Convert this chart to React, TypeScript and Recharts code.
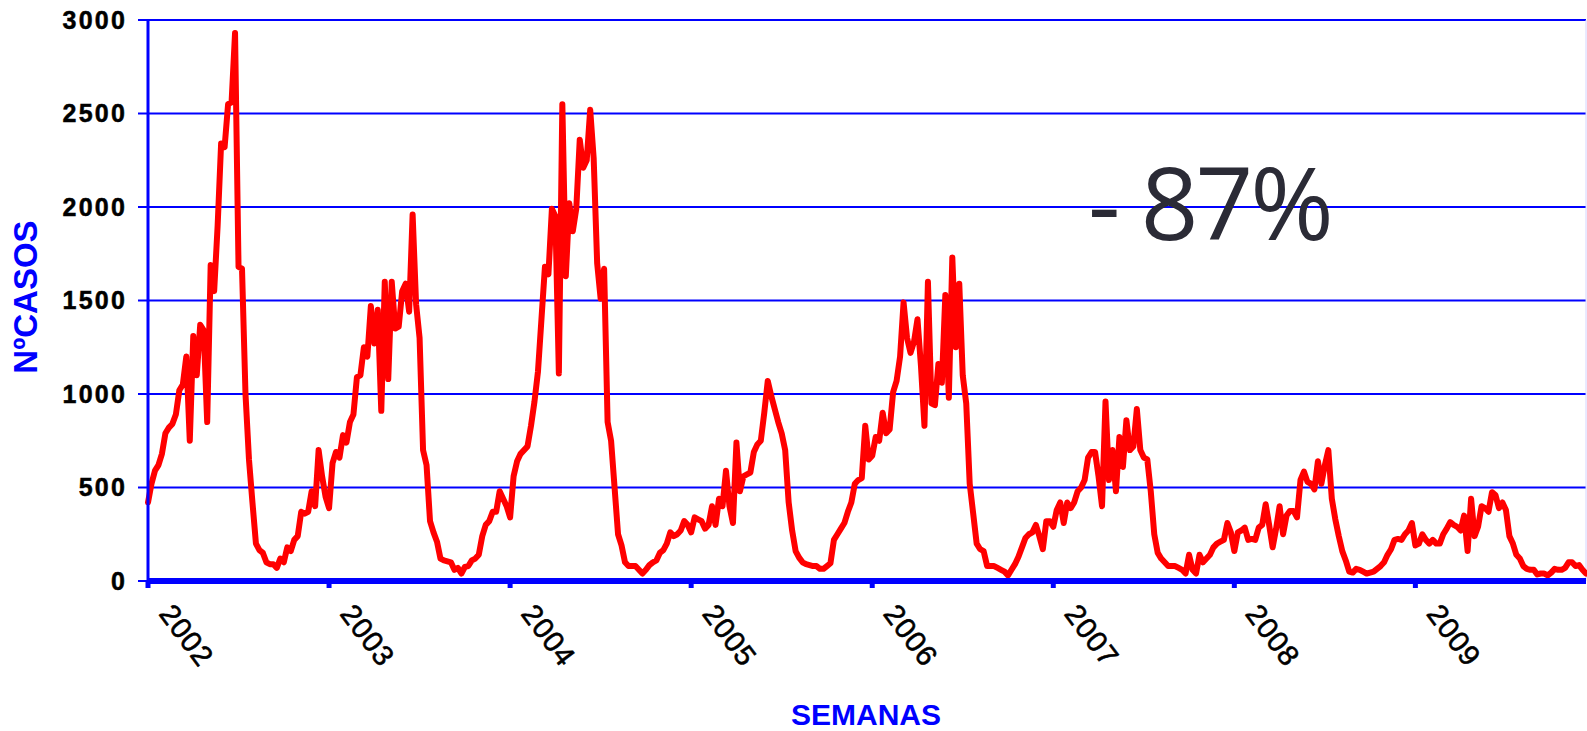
import React from 'react';
import { LineChart, Line, XAxis, YAxis, CartesianGrid, ReferenceLine } from 'recharts';

const years = ['2002', '2003', '2004', '2005', '2006', '2007', '2008', '2009'];

const cases2002 = [420, 520, 590, 620, 680, 790, 820, 840, 890, 1020, 1050, 1200, 750, 1310, 1100, 1370, 1340, 850, 1690, 1550, 1900, 2340, 2320, 2550, 2560, 2930, 1680, 1670, 1000, 650, 420, 200, 165, 150, 100, 90, 90, 70, 120, 100, 180, 160, 220, 240, 370, 360, 370, 480, 400, 700, 560, 450];
const cases2003 = [390, 630, 690, 660, 780, 740, 850, 890, 1090, 1100, 1250, 1200, 1470, 1270, 1450, 910, 1600, 1080, 1600, 1350, 1360, 1550, 1590, 1440, 1960, 1480, 1300, 700, 620, 320, 260, 210, 120, 110, 105, 100, 60, 70, 40, 75, 80, 110, 120, 140, 240, 300, 320, 370, 370, 480, 440, 400];
const cases2004 = [340, 560, 640, 680, 700, 720, 830, 960, 1120, 1400, 1680, 1640, 1990, 1950, 1110, 2550, 1630, 2020, 1870, 1990, 2360, 2210, 2250, 2520, 2260, 1700, 1510, 1670, 850, 750, 500, 250, 190, 100, 80, 80, 80, 60, 40, 60, 85, 100, 110, 150, 165, 200, 260, 240, 250, 270, 320, 300];
const cases2005 = [260, 340, 330, 320, 280, 300, 400, 300, 440, 400, 590, 400, 310, 740, 480, 560, 570, 580, 690, 730, 750, 900, 1070, 990, 920, 850, 790, 700, 420, 270, 160, 125, 100, 90, 85, 80, 80, 65, 65, 80, 95, 220, 250, 280, 310, 370, 420, 520, 540, 550, 830, 650];
const cases2006 = [670, 770, 750, 900, 790, 810, 1010, 1070, 1200, 1490, 1300, 1220, 1280, 1400, 1150, 830, 1600, 950, 940, 1160, 1060, 1530, 980, 1730, 1250, 1590, 1100, 950, 520, 360, 200, 170, 160, 80, 80, 80, 70, 60, 50, 30, 60, 90, 130, 180, 230, 250, 260, 300, 240, 170, 320, 320];
const cases2007 = [290, 380, 420, 310, 420, 390, 420, 480, 500, 540, 660, 690, 690, 560, 400, 960, 540, 700, 480, 770, 610, 860, 700, 720, 920, 700, 660, 650, 480, 250, 150, 120, 100, 80, 80, 80, 70, 60, 40, 140, 60, 40, 140, 100, 120, 140, 180, 200, 210, 220, 310, 260];
const cases2008 = [160, 260, 270, 285, 220, 225, 220, 285, 300, 410, 300, 180, 280, 400, 250, 350, 375, 375, 340, 540, 585, 530, 520, 490, 640, 520, 620, 700, 440, 330, 240, 160, 110, 50, 45, 65, 60, 50, 40, 45, 50, 65, 80, 100, 140, 170, 220, 225, 220, 250, 270, 310];
const cases2009 = [190, 200, 250, 220, 200, 220, 200, 200, 250, 280, 315, 300, 290, 270, 350, 160, 440, 240, 290, 400, 390, 370, 475, 460, 390, 420, 380, 240, 200, 140, 120, 80, 65, 60, 60, 35, 40, 40, 30, 45, 65, 60, 60, 70, 100, 100, 80, 85, 60, 40];

const yTicks = [0, 500, 1000, 1500, 2000, 2500, 3000];
const weeksPerYear = 52;

const weeklyCases = [
  ...cases2002, ...cases2003, ...cases2004, ...cases2005,
  ...cases2006, ...cases2007, ...cases2008, ...cases2009,
];
const data = weeklyCases.map((v, i) => ({ week: i, cases: v }));
const yearTicks = years.map((_, k) => k * weeksPerYear);
const lastWeek = weeklyCases.length - 1;

const BLUE = '#0000FF';

const YearTick = (props: any) => {
  const { x, y, payload } = props;
  const label = years[Math.round(payload.value / weeksPerYear)];
  return (
    <g transform={`translate(${x + 10},${y + 24}) rotate(53)`}>
      <text
        x={0}
        y={0}
        textAnchor="start"
        fill="#000"
        stroke="#000"
        strokeWidth={0.6}
        fontSize={29}
        fontFamily="'Liberation Sans', Arial, sans-serif"
        letterSpacing={1}
      >
        {label}
      </text>
    </g>
  );
};

export default function App() {
  return (
    <div style={{ position: 'absolute', left: 0, top: 0, width: 1587, height: 731, background: '#fff' }}>
      <LineChart
        width={1587}
        height={731}
        data={data}
        margin={{ top: 20, right: 1, left: 0, bottom: 0 }}
      >
        <CartesianGrid horizontal vertical={false} stroke={BLUE} strokeWidth={2} strokeOpacity={1} />
        <ReferenceLine x={lastWeek} stroke="#d4d4ff" strokeWidth={1} />
        <XAxis
          dataKey="week"
          type="number"
          domain={[0, lastWeek]}
          ticks={yearTicks}
          interval={0}
          height={150}
          tickSize={7}
          axisLine={{ stroke: BLUE, strokeWidth: 6 }}
          tickLine={{ stroke: BLUE, strokeWidth: 5 }}
          tick={<YearTick />}
        />
        <YAxis
          type="number"
          domain={[0, 3000]}
          ticks={yTicks}
          interval={0}
          width={148}
          tickSize={10}
          tickMargin={11}
          axisLine={{ stroke: BLUE, strokeWidth: 3 }}
          tickLine={{ stroke: BLUE, strokeWidth: 2 }}
          tick={{
            fill: '#000',
            stroke: '#000',
            strokeWidth: 0.5,
            fontSize: 25,
            fontWeight: 'bold',
            fontFamily: "'Liberation Sans', Arial, sans-serif",
            letterSpacing: 2.2,
          }}
        />
        <Line
          type="linear"
          dataKey="cases"
          stroke="#FF0000"
          strokeWidth={6}
          strokeLinejoin="round"
          strokeLinecap="round"
          dot={false}
          activeDot={false}
          isAnimationActive={false}
        />
      </LineChart>
      <svg
        width={1587}
        height={731}
        style={{ position: 'absolute', left: 0, top: 0, pointerEvents: 'none' }}
      >
        <text
          x={0}
          y={0}
          transform="translate(37,297) rotate(-90)"
          textAnchor="middle"
          fill={BLUE}
          fontSize={33}
          fontWeight="bold"
          fontFamily="'Liberation Sans', Arial, sans-serif"
        >
          NºCASOS
        </text>
        <text
          x={866}
          y={725}
          textAnchor="middle"
          fill={BLUE}
          fontSize={30}
          fontWeight="bold"
          fontFamily="'Liberation Sans', Arial, sans-serif"
        >
          SEMANAS
        </text>
        <text
          x={1088}
          y={240}
          textAnchor="start"
          fill="#2b2b36"
          fontSize={101}
          fontFamily="'Open Sans', 'Noto Sans', sans-serif"
          letterSpacing={-3}
        >
          - 87%
        </text>
      </svg>
    </div>
  );
}
